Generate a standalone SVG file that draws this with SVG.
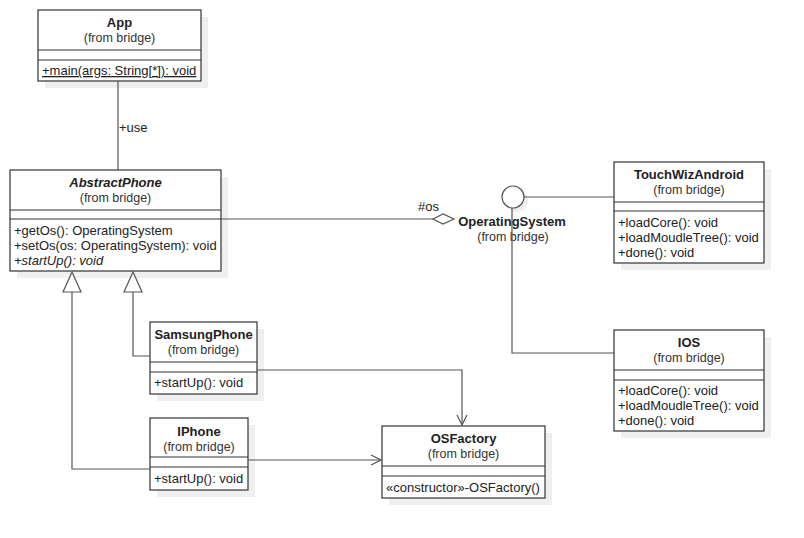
<svg xmlns="http://www.w3.org/2000/svg" width="804" height="538" viewBox="0 0 804 538">
<defs>
<style>
.box{fill:#fff;stroke:#333;stroke-width:1.2}
.sh{fill:#efefef}
.sep{stroke:#333;stroke-width:1.2}
.ln{fill:none;stroke:#555;stroke-width:1.2}
text{font-family:"Liberation Sans",Arial,sans-serif;font-size:13px;fill:#222}
.t{font-weight:bold;text-anchor:middle}
.f{text-anchor:middle;fill:#333;font-size:12.5px}
</style>
<marker id="open" markerWidth="12" markerHeight="12" refX="11" refY="6" orient="auto" markerUnits="userSpaceOnUse">
<path d="M1,1 L11,6 L1,11" fill="none" stroke="#555" stroke-width="1.2"/>
</marker>
</defs>
<rect width="804" height="538" fill="#fff"/>
<g id="OperatingSystem">
<circle cx="517" cy="201" r="11" fill="#efefef"/>
<circle cx="513" cy="197" r="11" fill="#fff" stroke="#555" stroke-width="1.2"/>
<text class="t" x="512" y="226">OperatingSystem</text>
<text class="f" x="513" y="241">(from bridge)</text>
</g>
<g id="App">
<rect class="sh" x="45" y="17" width="163" height="71"/>
<rect class="box" x="38" y="10" width="163" height="71"/>
<line class="sep" x1="38" y1="50" x2="201" y2="50"/>
<line class="sep" x1="38" y1="60" x2="201" y2="60"/>
<text class="t" x="119.5" y="27">App</text>
<text class="f" x="119.5" y="42">(from bridge)</text>
<text x="42" y="75" text-decoration="underline">+main(args: String[*]): void</text>
</g>
<g id="AbstractPhone">
<rect class="sh" x="17" y="177" width="211" height="101"/>
<rect class="box" x="10" y="170" width="211" height="101"/>
<line class="sep" x1="10" y1="210" x2="221" y2="210"/>
<line class="sep" x1="10" y1="219" x2="221" y2="219"/>
<text class="t" x="115.5" y="187" font-style="italic">AbstractPhone</text>
<text class="f" x="115.5" y="202">(from bridge)</text>
<text x="14" y="235">+getOs(): OperatingSystem</text>
<text x="14" y="250">+setOs(os: OperatingSystem): void</text>
<text x="14" y="265" font-style="italic">+startUp(): void</text>
</g>
<g id="TouchWizAndroid">
<rect class="sh" x="621" y="169" width="150" height="101"/>
<rect class="box" x="614" y="162" width="150" height="101"/>
<line class="sep" x1="614" y1="202" x2="764" y2="202"/>
<line class="sep" x1="614" y1="211" x2="764" y2="211"/>
<text class="t" x="689" y="179">TouchWizAndroid</text>
<text class="f" x="689" y="194">(from bridge)</text>
<text x="618" y="227">+loadCore(): void</text>
<text x="618" y="242">+loadMoudleTree(): void</text>
<text x="618" y="257">+done(): void</text>
</g>
<g id="IOS">
<rect class="sh" x="621" y="337" width="150" height="101"/>
<rect class="box" x="614" y="330" width="150" height="101"/>
<line class="sep" x1="614" y1="370" x2="764" y2="370"/>
<line class="sep" x1="614" y1="380" x2="764" y2="380"/>
<text class="t" x="689" y="347">IOS</text>
<text class="f" x="689" y="362">(from bridge)</text>
<text x="618" y="395">+loadCore(): void</text>
<text x="618" y="410">+loadMoudleTree(): void</text>
<text x="618" y="425">+done(): void</text>
</g>
<g id="SamsungPhone">
<rect class="sh" x="157" y="329" width="107" height="72"/>
<rect class="box" x="150" y="322" width="107" height="72"/>
<line class="sep" x1="150" y1="362" x2="257" y2="362"/>
<line class="sep" x1="150" y1="372" x2="257" y2="372"/>
<text class="t" x="203.5" y="339">SamsungPhone</text>
<text class="f" x="203.5" y="354">(from bridge)</text>
<text x="154" y="387">+startUp(): void</text>
</g>
<g id="IPhone">
<rect class="sh" x="157" y="425" width="98" height="72"/>
<rect class="box" x="150" y="418" width="98" height="72"/>
<line class="sep" x1="150" y1="457" x2="248" y2="457"/>
<line class="sep" x1="150" y1="467" x2="248" y2="467"/>
<text class="t" x="199" y="436">IPhone</text>
<text class="f" x="199" y="451">(from bridge)</text>
<text x="154" y="483">+startUp(): void</text>
</g>
<g id="OSFactory">
<rect class="sh" x="389" y="433" width="163" height="72"/>
<rect class="box" x="382" y="426" width="163" height="72"/>
<line class="sep" x1="382" y1="466" x2="545" y2="466"/>
<line class="sep" x1="382" y1="476" x2="545" y2="476"/>
<text class="t" x="463.5" y="443">OSFactory</text>
<text class="f" x="463.5" y="458">(from bridge)</text>
<text x="386" y="492">«constructor»-OSFactory()</text>
</g>
<g id="connectors">
<line class="ln" x1="118" y1="81" x2="118" y2="170"/>
<text x="119" y="132">+use</text>
<polyline class="ln" points="72,292 72,469 150,469"/>
<polygon points="72,272 63,292 81,292" fill="#fff" stroke="#555" stroke-width="1.2"/>
<polyline class="ln" points="133,292 133,356 150,356"/>
<polygon points="133,272 124,292 142,292" fill="#fff" stroke="#555" stroke-width="1.2"/>
<line class="ln" x1="221" y1="219" x2="433" y2="219"/>
<polygon points="433,219 443,214 454,219 443,224" fill="#fff" stroke="#555" stroke-width="1.2"/>
<text x="418" y="211">#os</text>
<line class="ln" x1="524" y1="197" x2="614" y2="197"/>
<polyline class="ln" points="512,208 512,353 614,353"/>
<polyline class="ln" points="257,370 462,370 462,425" marker-end="url(#open)"/>
<line class="ln" x1="248" y1="460" x2="381" y2="460" marker-end="url(#open)"/>
</g>
</svg>
